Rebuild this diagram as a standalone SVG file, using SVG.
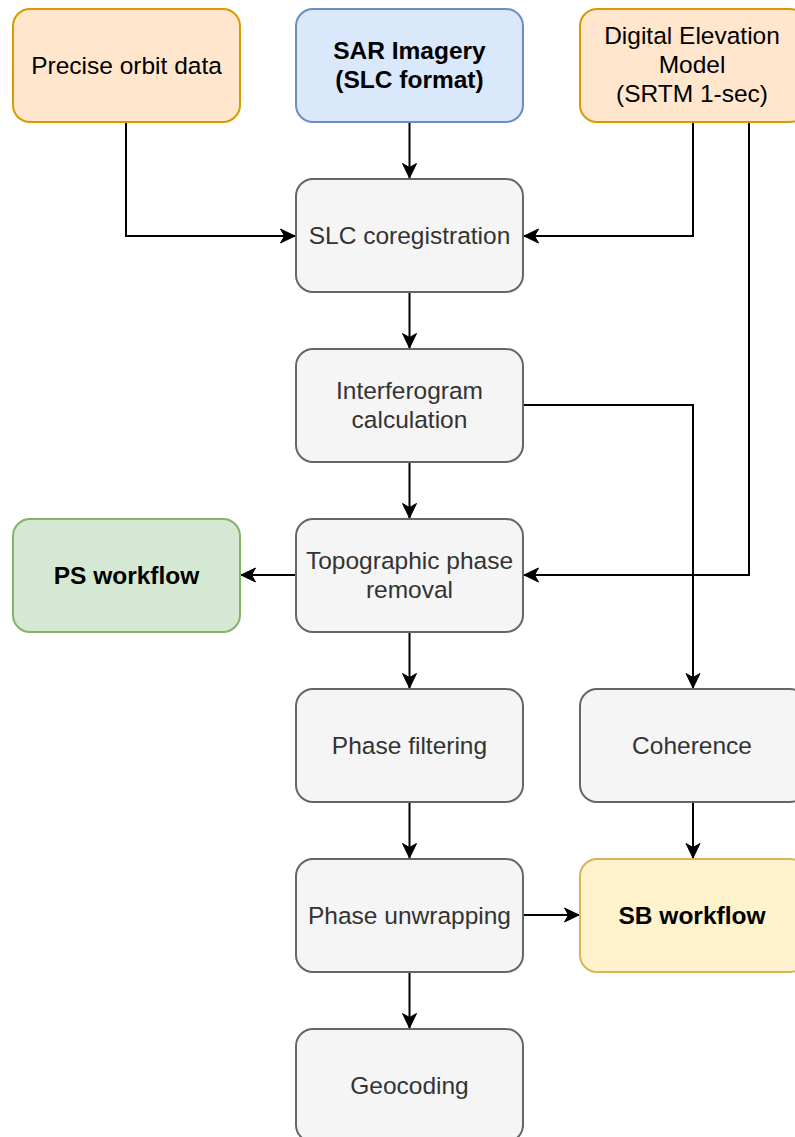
<svg xmlns="http://www.w3.org/2000/svg" width="795" height="1137" viewBox="0 0 795 1137">
  <style>
    .box { stroke-width: 2; }
    .orange { fill: #ffe6cc; stroke: #d79b00; }
    .blue { fill: #dae8fc; stroke: #6c8ebf; }
    .gray { fill: #f5f5f5; stroke: #666666; }
    .green { fill: #d5e8d4; stroke: #82b366; }
    .yellow { fill: #fff2cc; stroke: #d6b656; }
    text { font-family: "Liberation Sans", Arial, Helvetica, sans-serif; font-size: 24.5px; text-anchor: middle; dominant-baseline: central; }
    .dark { fill: #000000; }
    .muted { fill: #333333; }
    .bold { font-weight: bold; fill: #000000; }
    .edge { fill: none; stroke: #000000; stroke-width: 2; marker-end: url(#arrow); }
  </style>
  <defs>
    <marker id="arrow" markerUnits="userSpaceOnUse" markerWidth="18" markerHeight="18" viewBox="0 0 18 18" refX="16" refY="9" orient="auto">
      <path d="M1.5,2 L16,9 L1.5,16 L5.5,9 Z" fill="#000000" stroke="#000000" stroke-width="1"/>
    </marker>
  </defs>

  <rect width="795" height="1137" fill="#ffffff"/>

  <!-- connectors -->
  <g id="connectors">
    <path class="edge" d="M126,122 V236 H295"/>
    <path class="edge" d="M409.5,122 V178"/>
    <path class="edge" d="M693,122 V236 H524"/>
    <path class="edge" d="M749,122 V575 H524"/>
    <path class="edge" d="M409.5,292 V348"/>
    <path class="edge" d="M523,405 H693 V688"/>
    <path class="edge" d="M409.5,462 V518"/>
    <path class="edge" d="M296,575 H241"/>
    <path class="edge" d="M409.5,632 V688"/>
    <path class="edge" d="M409.5,802 V858"/>
    <path class="edge" d="M693,802 V858"/>
    <path class="edge" d="M523,915 H579"/>
    <path class="edge" d="M409.5,972 V1028"/>
  </g>

  <!-- inputs -->
  <g id="orbit">
    <rect class="box orange" x="13" y="9" width="227" height="113" rx="17"/>
    <text class="dark" x="126.5" y="65">Precise orbit data</text>
  </g>
  <g id="sar">
    <rect class="box blue" x="296" y="9" width="227" height="113" rx="17"/>
    <text class="bold" x="409.5" y="50">SAR Imagery</text>
    <text class="bold" x="409.5" y="79">(SLC format)</text>
  </g>
  <g id="dem">
    <rect class="box orange" x="580" y="9" width="227" height="113" rx="17"/>
    <text class="dark" x="692" y="35">Digital Elevation</text>
    <text class="dark" x="692" y="64">Model</text>
    <text class="dark" x="692" y="93">(SRTM 1-sec)</text>
  </g>

  <!-- processing chain -->
  <g id="coreg">
    <rect class="box gray" x="296" y="179" width="227" height="113" rx="17"/>
    <text class="muted" x="409.5" y="235">SLC coregistration</text>
  </g>
  <g id="interferogram">
    <rect class="box gray" x="296" y="349" width="227" height="113" rx="17"/>
    <text class="muted" x="409.5" y="390">Interferogram</text>
    <text class="muted" x="409.5" y="419">calculation</text>
  </g>
  <g id="topo">
    <rect class="box gray" x="296" y="519" width="227" height="113" rx="17"/>
    <text class="muted" x="409.5" y="560">Topographic phase</text>
    <text class="muted" x="409.5" y="589">removal</text>
  </g>
  <g id="ps">
    <rect class="box green" x="13" y="519" width="227" height="113" rx="17"/>
    <text class="bold" x="126.5" y="575">PS workflow</text>
  </g>
  <g id="filtering">
    <rect class="box gray" x="296" y="689" width="227" height="113" rx="17"/>
    <text class="muted" x="409.5" y="745">Phase filtering</text>
  </g>
  <g id="coherence">
    <rect class="box gray" x="580" y="689" width="227" height="113" rx="17"/>
    <text class="muted" x="692" y="745">Coherence</text>
  </g>
  <g id="unwrapping">
    <rect class="box gray" x="296" y="859" width="227" height="113" rx="17"/>
    <text class="muted" x="409.5" y="915">Phase unwrapping</text>
  </g>
  <g id="sb">
    <rect class="box yellow" x="580" y="859" width="227" height="113" rx="17"/>
    <text class="bold" x="692" y="915">SB workflow</text>
  </g>
  <g id="geocoding">
    <rect class="box gray" x="296" y="1029" width="227" height="113" rx="17"/>
    <text class="muted" x="409.5" y="1085">Geocoding</text>
  </g>
</svg>
